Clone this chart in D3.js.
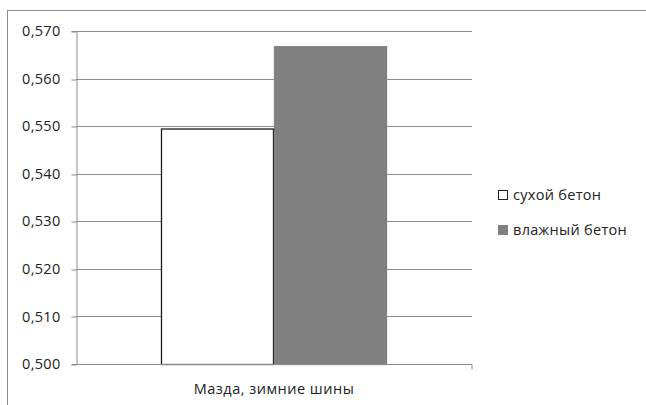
<!DOCTYPE html>
<html>
<head>
<meta charset="utf-8">
<script src="https://cdn.jsdelivr.net/npm/d3@7"></script>
<style>
  html, body { margin: 0; padding: 0; background: #fff; }
  svg { display: block; font-family: "Open Sans", "Liberation Sans", sans-serif; }
</style>
</head>
<body>
<svg id="chart" width="646" height="405"></svg>
<script>
// Chart data
const categories = ["Мазда, зимние шины"];
const seriesNames = ["сухой бетон", "влажный бетон"];
const seriesValues = [0.5495, 0.5668];
const seriesFill = ["#ffffff", "#808080"];
const seriesStroke = ["#1a1a1a", "#808080"];
const yTicks = [0.50, 0.51, 0.52, 0.53, 0.54, 0.55, 0.56, 0.57];

const svg = d3.select("#chart");
const FONT = 14.5;

// outer chart frame
svg.append("rect")
  .attr("x", 7.5).attr("y", 10.5)
  .attr("width", 660).attr("height", 410)
  .attr("fill", "none").attr("stroke", "#8a8a8a");

const plot = { left: 76, right: 472, top: 31, bottom: 364 };

const y = d3.scaleLinear().domain([0.50, 0.57]).range([plot.bottom, plot.top]);
const x = d3.scaleBand().domain(categories).range([plot.left, plot.right]).paddingInner(0).paddingOuter(0.376);
const xs = d3.scaleBand().domain(seriesNames).range([0, x.bandwidth()]);

const fmt = v => d3.format(".3f")(v).replace(".", ",");

// horizontal gridlines
svg.append("g")
  .selectAll("line")
  .data(yTicks.slice(1))
  .join("line")
  .attr("x1", plot.left).attr("x2", plot.right)
  .attr("y1", d => Math.round(y(d)) + 0.5).attr("y2", d => Math.round(y(d)) + 0.5)
  .attr("stroke", "#8c8c8c").attr("stroke-width", 1.2);

// y axis
const yAxis = svg.append("g")
  .attr("transform", `translate(${plot.left + 0.5},0)`)
  .call(d3.axisLeft(y).tickValues(yTicks).tickFormat(fmt).tickSize(5).tickPadding(11));
yAxis.select(".domain").attr("stroke", "#8c8c8c");
yAxis.selectAll(".tick line").attr("stroke", "#8c8c8c")
  .attr("transform", d => `translate(0,${Math.round(y(d)) + 0.5 - y(d)})`);
yAxis.selectAll(".tick text")
  .attr("font-size", FONT).attr("fill", "#222")
  .attr("letter-spacing", 0.3)
  .attr("font-family", "\"Open Sans\", sans-serif");

// bars
const gBars = svg.append("g");
categories.forEach(cat => {
  gBars.selectAll(null)
    .data(seriesValues)
    .join("rect")
    .attr("x", (d, i) => x(cat) + xs(seriesNames[i]) + 0.5)
    .attr("y", d => y(d) + 0.5)
    .attr("width", xs.bandwidth() - 1)
    .attr("height", d => y(0.50) - y(d))
    .attr("fill", (d, i) => seriesFill[i])
    .attr("stroke", (d, i) => seriesStroke[i])
    .attr("stroke-width", 1.3);
});

// x axis
const xAxis = svg.append("g")
  .attr("transform", `translate(0,${plot.bottom + 0.5})`)
  .call(d3.axisBottom(x).tickSize(0).tickPadding(19));
xAxis.select(".domain").attr("stroke", "#8c8c8c")
  .attr("d", `M${plot.left},0H${plot.right}V5`);
xAxis.selectAll(".tick text")
  .attr("font-size", FONT).attr("fill", "#222")
  .attr("letter-spacing", 0.5)
  .attr("font-family", "\"Open Sans\", sans-serif");

// legend
const legend = svg.append("g").attr("transform", "translate(498,195)");
seriesNames.forEach((name, i) => {
  const g = legend.append("g").attr("transform", `translate(0,${i * 35})`);
  g.append("rect")
    .attr("x", 0.5).attr("y", -4.5).attr("width", 9).attr("height", 9)
    .attr("fill", seriesFill[i]).attr("stroke", i === 0 ? "#222" : seriesFill[i]);
  g.append("text")
    .attr("x", 15).attr("y", 0).attr("dy", "0.35em")
    .attr("font-size", FONT).attr("fill", "#222")
    .attr("letter-spacing", 0.3)
    .text(name);
});
</script>
</body>
</html>
